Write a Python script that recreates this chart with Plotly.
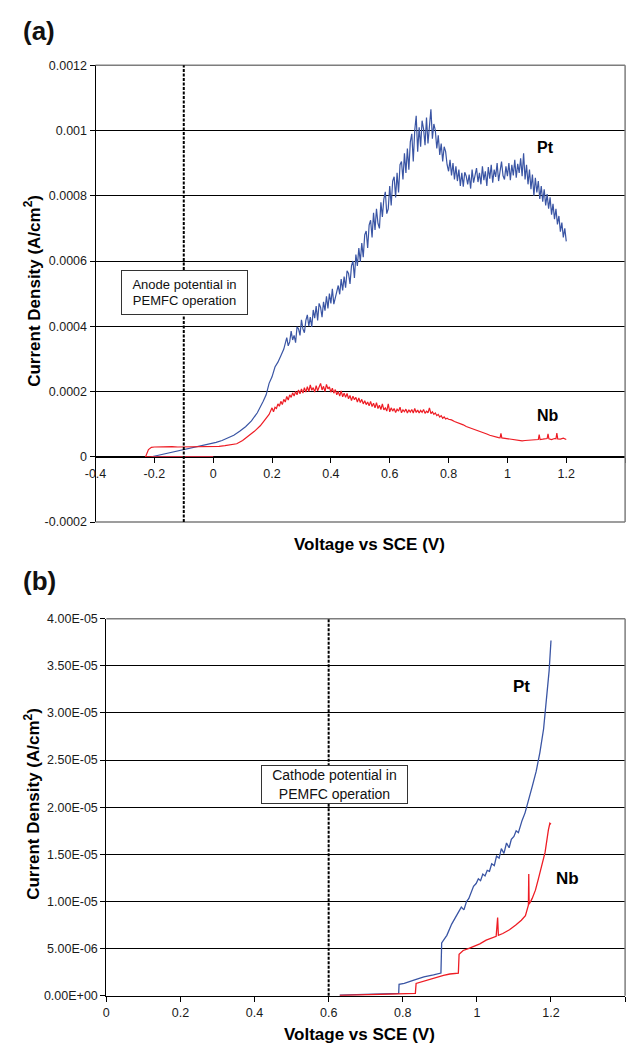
import plotly.graph_objects as go

# ---------------- data: panel (a) ----------------
pt_a_v = [0.00, -0.21, -0.19, -0.17, -0.15, -0.13, -0.11, -0.09, -0.07, -0.05,
          -0.03, -0.01, 0.01, 0.03, 0.05, 0.07, 0.09, 0.11, 0.13, 0.15,
          0.17, 0.18, 0.19, 0.20, 0.21, 0.22, 0.23, 0.24,
          0.250, 0.255, 0.260, 0.265, 0.270, 0.275, 0.280, 0.285, 0.290, 0.295,
          0.300, 0.305, 0.310, 0.315, 0.320, 0.325, 0.330, 0.335, 0.340, 0.345,
          0.350, 0.355, 0.360, 0.365, 0.370, 0.375, 0.380, 0.385, 0.390, 0.395,
          0.400, 0.405, 0.410, 0.415, 0.420, 0.425, 0.430, 0.435, 0.440, 0.445,
          0.450, 0.455, 0.460, 0.465, 0.470, 0.475, 0.480, 0.485, 0.490, 0.495,
          0.500, 0.505, 0.510, 0.515, 0.520, 0.525, 0.530, 0.535, 0.540, 0.545,
          0.550, 0.555, 0.560, 0.565, 0.570, 0.575, 0.580, 0.585, 0.590, 0.595,
          0.600, 0.605, 0.610, 0.615, 0.620, 0.625, 0.630, 0.635, 0.640, 0.645,
          0.650, 0.655, 0.660, 0.665, 0.670, 0.675, 0.680, 0.685, 0.690, 0.695,
          0.700, 0.705, 0.710, 0.715, 0.720, 0.725, 0.730, 0.735, 0.740, 0.745,
          0.750, 0.755, 0.760, 0.765, 0.770, 0.775, 0.780, 0.785, 0.790, 0.795,
          0.800, 0.805, 0.810, 0.815, 0.820, 0.825, 0.830, 0.835, 0.840, 0.845,
          0.850, 0.855, 0.860, 0.865, 0.870, 0.875, 0.880, 0.885, 0.890, 0.895,
          0.900, 0.905, 0.910, 0.915, 0.920, 0.925, 0.930, 0.935, 0.940, 0.945,
          0.950, 0.955, 0.960, 0.965, 0.970, 0.975, 0.980, 0.985, 0.990, 0.995,
          1.000, 1.005, 1.010, 1.015, 1.020, 1.025, 1.030, 1.035, 1.040, 1.045,
          1.050, 1.055, 1.060, 1.065, 1.070, 1.075, 1.080, 1.085, 1.090, 1.095,
          1.100, 1.105, 1.110, 1.115, 1.120, 1.125, 1.130, 1.135, 1.140, 1.145,
          1.150, 1.155, 1.160, 1.165, 1.170, 1.175, 1.180, 1.185, 1.190, 1.195,
          1.200]
pt_a_uA = [0, 0, 4, 8, 12, 15, 18, 22, 26, 31,
           35, 40, 44, 50, 58, 66, 78, 92, 110, 135,
           170, 190, 225, 245, 275, 290, 310, 330,
           365, 340, 352, 385, 358, 372, 350, 398, 392, 372,
           420, 392, 380, 418, 435, 400, 428, 398, 450, 425,
           462, 418, 470, 458, 428, 475, 448, 492, 455, 500,
           470, 515, 468, 490, 508, 525, 498, 545, 510, 552,
           518, 570, 562, 530, 585, 600, 548, 620, 585, 640,
           598, 655, 612, 680, 692, 640, 710, 725, 672, 748,
           695, 760, 715, 700, 780, 735, 790, 812, 745, 760,
           830, 770, 845, 858, 795, 870, 810, 895, 905, 850,
           930, 870, 945, 880, 965, 990, 905, 1000, 1045, 935,
           1010, 950, 1030, 1005, 955, 1040, 960, 1015, 1065, 975,
           1020, 1000, 945, 985, 925, 960, 905, 950, 935, 895,
           875, 910, 862, 900, 850, 890, 845, 880, 830, 870,
           828, 872, 860, 835, 865, 822, 880, 840, 868, 885,
           842, 870, 835, 890, 848, 875, 830, 888, 852, 895,
           840, 880, 858, 900, 845, 885, 905, 862, 850, 890,
           860, 900, 848, 895, 862, 910, 855, 898, 870, 915,
           860, 930, 850, 895, 835, 880, 820, 865, 800, 855,
           810, 845, 790, 830, 782, 820, 770, 805, 760, 795,
           742, 775, 728, 760, 712, 738, 690, 718, 672, 700,
           660]

nb_a_v = [0.00, -0.23, -0.22, -0.21, -0.20, -0.18, -0.16, -0.14, -0.12, -0.10,
          -0.08, -0.06, -0.04, -0.02, 0.00, 0.02, 0.04, 0.06, 0.08, 0.10,
          0.12, 0.14, 0.16, 0.18, 0.19,
          0.200, 0.205, 0.210, 0.215, 0.220, 0.225, 0.230, 0.235, 0.240, 0.245,
          0.250, 0.255, 0.260, 0.265, 0.270, 0.275, 0.280, 0.285, 0.290, 0.295,
          0.300, 0.305, 0.310, 0.315, 0.320, 0.325, 0.330, 0.335, 0.340, 0.345,
          0.350, 0.355, 0.360, 0.365, 0.370, 0.375, 0.380, 0.385, 0.390, 0.395,
          0.400, 0.405, 0.410, 0.415, 0.420, 0.425, 0.430, 0.435, 0.440, 0.445,
          0.450, 0.455, 0.460, 0.465, 0.470, 0.475, 0.480, 0.485, 0.490, 0.495,
          0.500, 0.505, 0.510, 0.515, 0.520, 0.525, 0.530, 0.535, 0.540, 0.545,
          0.550, 0.555, 0.560, 0.565, 0.570, 0.575, 0.580, 0.585, 0.590, 0.595,
          0.600, 0.605, 0.610, 0.615, 0.620, 0.625, 0.630, 0.635, 0.640, 0.645,
          0.650, 0.655, 0.660, 0.665, 0.670, 0.675, 0.680, 0.685, 0.690, 0.695,
          0.700, 0.705, 0.710, 0.715, 0.720, 0.725, 0.730, 0.735, 0.740, 0.745,
          0.750, 0.755, 0.760, 0.765, 0.770, 0.775, 0.780, 0.785, 0.790, 0.795,
          0.80, 0.81, 0.82, 0.83, 0.84, 0.85, 0.86, 0.87, 0.88, 0.89,
          0.90, 0.91, 0.92, 0.93, 0.94, 0.95, 0.96, 0.97, 0.975, 0.978,
          0.981, 0.99, 1.00, 1.01, 1.02, 1.03, 1.04, 1.05, 1.06, 1.07,
          1.08, 1.09, 1.10, 1.105, 1.108, 1.111, 1.12, 1.13, 1.135, 1.138,
          1.141, 1.15, 1.16, 1.165, 1.168, 1.171, 1.18, 1.19, 1.20]
nb_a_uA = [0, 0, 22, 29, 30, 31, 30, 31, 30, 30,
           31, 30, 30, 31, 31, 32, 34, 36, 40, 50,
           63, 78, 95, 118, 130,
           150, 138, 152, 148, 162, 155, 170, 160, 176, 168,
           185, 174, 190, 182, 196, 186, 200, 190, 205, 193,
           208, 195, 212, 198, 215, 200, 220, 204, 212, 198,
           218, 202, 214, 225, 205, 216, 200, 222, 208, 214,
           198, 210, 195, 206, 190, 200, 186, 202, 184, 195,
           182, 194, 178, 188, 172, 186, 175, 182, 168, 180,
           166, 176, 162, 172, 160, 168, 156, 170, 154, 164,
           150, 166, 148, 158, 145, 162, 144, 150, 140, 162,
           138, 150, 140, 148, 136, 146, 140, 152, 135, 144,
           138, 146, 134, 144, 137, 145, 134, 148, 136, 143,
           134, 142, 136, 145, 133, 140, 135, 150, 132, 138,
           130, 134, 126, 130, 122, 126, 118, 122, 116, 118,
           115, 113, 108, 105, 101, 98, 93, 90, 87, 84,
           80, 77, 73, 70, 66, 63, 61, 59, 58, 72,
           58, 57, 56, 54, 53, 51, 50, 49, 50, 51,
           52, 53, 52, 53, 68, 53, 54, 55, 56, 70,
           55, 53, 56, 55, 73, 55, 54, 57, 53]

# ---------------- data: panel (b) ----------------
pt_b_v = [0.63, 0.66, 0.70, 0.74, 0.78, 0.789, 0.790, 0.804, 0.83, 0.857,
          0.883, 0.903, 0.905, 0.919, 0.932, 0.945, 0.952, 0.958, 0.965, 0.972,
          0.978, 0.985, 0.991, 0.998, 1.004, 1.010, 1.016, 1.022, 1.028, 1.034,
          1.040, 1.047, 1.053, 1.060, 1.066, 1.073, 1.080, 1.087, 1.093, 1.100,
          1.106, 1.112, 1.118, 1.122, 1.13, 1.14, 1.15, 1.16, 1.17, 1.18,
          1.19, 1.195, 1.20]
pt_b_uA = [0.05, 0.08, 0.10, 0.15, 0.18, 0.25, 1.20, 1.30, 1.65, 2.00,
           2.20, 2.40, 5.60, 6.40, 7.60, 8.50, 8.90, 9.40, 9.10, 10.0,
           10.3, 10.9, 11.6, 11.9, 12.4, 12.2, 12.9, 12.7, 13.3, 13.2,
           14.0, 13.8, 14.8, 14.6, 15.6, 15.1, 16.2, 15.7, 16.6, 16.9,
           17.5, 17.3, 18.2, 18.6, 19.4, 21.0, 22.3, 23.8, 25.8, 28.3,
           32.0, 34.5, 37.7]

nb_b_v = [0.63, 0.70, 0.78, 0.834, 0.836, 0.857, 0.875, 0.892, 0.910, 0.927,
          0.950, 0.952, 0.963, 0.977, 0.990, 1.008, 1.025, 1.040, 1.052, 1.056,
          1.058, 1.070, 1.088, 1.105, 1.120, 1.131, 1.139, 1.140, 1.141, 1.149,
          1.158, 1.166, 1.175, 1.184, 1.193, 1.197, 1.200]
nb_b_uA = [0.02, 0.10, 0.18, 0.25, 1.30, 1.56, 1.80, 2.00, 2.15, 2.30,
           2.40, 4.40, 4.80, 5.00, 5.20, 5.50, 5.90, 6.10, 6.30, 8.30,
           6.40, 6.60, 7.00, 7.50, 8.00, 8.50, 9.60, 12.9, 9.70, 10.3,
           11.2, 12.4, 13.7, 15.2, 17.6, 18.3, 18.2]

# axis ticks
xa_ticks = [-0.4, -0.2, 0, 0.2, 0.4, 0.6, 0.8, 1, 1.2, 1.4]
xa_text = ["-0.4", "-0.2", "0", "0.2", "0.4", "0.6", "0.8", "1", "1.2", "1.4"]
ya_ticks = [-0.0002, 0, 0.0002, 0.0004, 0.0006, 0.0008, 0.001, 0.0012]
ya_text = ["-0.0002", "0", "0.0002", "0.0004", "0.0006", "0.0008", "0.001", "0.0012"]
xb_ticks = [0, 0.2, 0.4, 0.6, 0.8, 1, 1.2, 1.4]
xb_text = ["0", "0.2", "0.4", "0.6", "0.8", "1", "1.2", "1.4"]
yb_ticks = [0, 5e-6, 1e-5, 1.5e-5, 2e-5, 2.5e-5, 3e-5, 3.5e-5, 4e-5]
yb_text = ["0.00E+00", "5.00E-06", "1.00E-05", "1.50E-05", "2.00E-05",
           "2.50E-05", "3.00E-05", "3.50E-05", "4.00E-05"]

anode_v = -0.1
cathode_v = 0.6

# ---------------- style ----------------
W, H = 631, 1053
BLUE = "#3a55a4"
RED = "#ee1c24"
SANS = "Liberation Sans, Arial, sans-serif"
TICKFONT = dict(family=SANS, size=12.5, color="#1a1a1a")
TITLEFONT = dict(family=SANS, size=17, color="black", weight="bold")

to_A = lambda arr: [v * 1e-6 for v in arr]

fig = go.Figure()
fig.add_trace(go.Scatter(x=pt_a_v, y=to_A(pt_a_uA), mode="lines",
                         line=dict(color=BLUE, width=1.2), xaxis="x", yaxis="y",
                         showlegend=False, hoverinfo="skip"))
fig.add_trace(go.Scatter(x=nb_a_v, y=to_A(nb_a_uA), mode="lines",
                         line=dict(color=RED, width=1.2), xaxis="x", yaxis="y",
                         showlegend=False, hoverinfo="skip"))
fig.add_trace(go.Scatter(x=pt_b_v, y=to_A(pt_b_uA), mode="lines",
                         line=dict(color=BLUE, width=1.3), xaxis="x2", yaxis="y2",
                         showlegend=False, hoverinfo="skip"))
fig.add_trace(go.Scatter(x=nb_b_v, y=to_A(nb_b_uA), mode="lines",
                         line=dict(color=RED, width=1.3), xaxis="x2", yaxis="y2",
                         showlegend=False, hoverinfo="skip"))

xa_dom = [86 / W, 625 / W]
ya_dom = [1 - 522 / H, 1 - 59 / H]
xb_dom = [97 / W, 625 / W]
yb_dom = [1 - 1002 / H, 1 - 620 / H]
ya_range = [-0.0002, 0.0012]
pos0 = ya_dom[0] + (0 - ya_range[0]) / (ya_range[1] - ya_range[0]) * (ya_dom[1] - ya_dom[0])

common_x = dict(ticks="outside", ticklen=5, tickcolor="black", showline=True,
                linecolor="black", linewidth=1, showgrid=False, zeroline=False,
                tickfont=TICKFONT, fixedrange=True)
common_y = dict(ticks="outside", ticklen=5, tickcolor="black", showline=True,
                linecolor="black", linewidth=1, showgrid=True, gridcolor="black",
                gridwidth=1, zeroline=False, tickfont=TICKFONT, fixedrange=True)

fig.update_layout(
    width=W, height=H, autosize=False,
    margin=dict(l=0, r=0, t=0, b=0, pad=0),
    paper_bgcolor="white", plot_bgcolor="white",
    xaxis=dict(domain=xa_dom, range=[-0.4, 1.4], anchor="free", position=pos0,
               tickmode="array", tickvals=xa_ticks, ticktext=xa_text, **common_x),
    yaxis=dict(domain=ya_dom, range=ya_range, anchor="x",
               tickmode="array", tickvals=ya_ticks, ticktext=ya_text, **common_y),
    xaxis2=dict(domain=xb_dom, range=[0, 1.4], anchor="y2",
                tickmode="array", tickvals=xb_ticks, ticktext=xb_text, **common_x),
    yaxis2=dict(domain=yb_dom, range=[0, 4e-5], anchor="x2",
                tickmode="array", tickvals=yb_ticks, ticktext=yb_text, **common_y),
)

BORDER = dict(color="#7d7d7d", width=1.5)
shapes = [
    dict(type="line", xref="x domain", yref="y domain", x0=0, x1=1, y0=1, y1=1, line=BORDER, layer="above"),
    dict(type="line", xref="x domain", yref="y domain", x0=1, x1=1, y0=0, y1=1, line=BORDER, layer="above"),
    dict(type="line", xref="x domain", yref="y domain", x0=0, x1=1, y0=0, y1=0, line=BORDER, layer="above"),
    dict(type="line", xref="x2 domain", yref="y2 domain", x0=0, x1=1, y0=1, y1=1, line=BORDER, layer="above"),
    dict(type="line", xref="x2 domain", yref="y2 domain", x0=1, x1=1, y0=0, y1=1, line=BORDER, layer="above"),
    dict(type="line", xref="x", yref="y domain", x0=anode_v, x1=anode_v, y0=0, y1=1,
         line=dict(color="black", width=2, dash="3px,1.5px"), layer="above"),
    dict(type="line", xref="x2", yref="y2 domain", x0=cathode_v, x1=cathode_v, y0=0, y1=1,
         line=dict(color="black", width=2, dash="3px,1.5px"), layer="above"),
]
fig.update_layout(shapes=shapes)

LABELFONT = dict(family=SANS, size=26, color="#111", weight="bold")
ann = [
    dict(text="(a)", xref="paper", yref="paper", x=10 / W, y=1 - 24 / H,
         xanchor="left", yanchor="middle", showarrow=False, font=LABELFONT),
    dict(text="(b)", xref="paper", yref="paper", x=10 / W, y=1 - 582 / H,
         xanchor="left", yanchor="middle", showarrow=False, font=LABELFONT),
    dict(text="Current Density (A/cm<sup>2</sup>)", xref="paper", yref="paper",
         x=22 / W, y=1 - 288 / H, textangle=-90, showarrow=False,
         xanchor="center", yanchor="middle", font=TITLEFONT),
    dict(text="Voltage vs SCE (V)", xref="paper", yref="paper",
         x=365 / W, y=1 - 545 / H, showarrow=False,
         xanchor="center", yanchor="middle", font=TITLEFONT),
    dict(text="Current Density (A/cm<sup>2</sup>)", xref="paper", yref="paper",
         x=22 / W, y=1 - 808 / H, textangle=-90, showarrow=False,
         xanchor="center", yanchor="middle", font=TITLEFONT),
    dict(text="Voltage vs SCE (V)", xref="paper", yref="paper",
         x=355 / W, y=0.0, showarrow=False,
         xanchor="center", yanchor="bottom", font=TITLEFONT),
    dict(text="Pt", xref="x", yref="y", x=1.131, y=0.000947, showarrow=False,
         font=dict(family=SANS, size=16, color="black", weight="bold")),
    dict(text="Nb", xref="x", yref="y", x=1.139, y=0.000126, showarrow=False,
         font=dict(family=SANS, size=16, color="black", weight="bold")),
    dict(text="Pt", xref="x2", yref="y2", x=1.121, y=3.28e-5, showarrow=False,
         font=dict(family=SANS, size=17, color="black", weight="bold")),
    dict(text="Nb", xref="x2", yref="y2", x=1.244, y=1.24e-5, showarrow=False,
         font=dict(family=SANS, size=17, color="black", weight="bold")),
    dict(text="Anode potential in<br>PEMFC operation", xref="x", yref="y",
         x=-0.098, y=0.000502, showarrow=False, width=125, height=43,
         bgcolor="white", bordercolor="#333", borderwidth=1, borderpad=0,
         align="center", font=dict(family=SANS, size=13, color="#111")),
    dict(text="Cathode potential in<br>PEMFC operation", xref="x2", yref="y2",
         x=0.617, y=2.24e-5, showarrow=False, width=145, height=37,
         bgcolor="white", bordercolor="#333", borderwidth=1, borderpad=0,
         align="center", font=dict(family=SANS, size=14, color="#111")),
]
fig.update_layout(annotations=ann)

fig.write_html("out.html")
